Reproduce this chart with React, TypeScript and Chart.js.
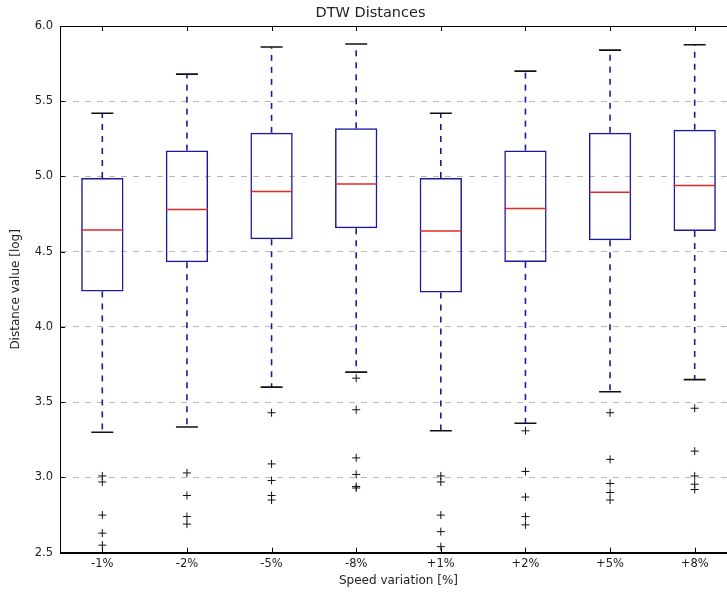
import React, { useEffect, useRef } from 'react';
import { Chart, registerables } from 'chart.js';
Chart.register(...registerables);

const labels = ['-1%', '-2%', '-5%', '-8%', '+1%', '+2%', '+5%', '+8%'];
const whiskerLow = [3.3, 3.335, 3.6, 3.7, 3.31, 3.36, 3.57, 3.65];
const q1 = [4.236, 4.43, 4.583, 4.656, 4.229, 4.432, 4.576, 4.638];
const median = [4.644, 4.78, 4.9, 4.95, 4.638, 4.788, 4.896, 4.94];
const q3 = [4.99, 5.172, 5.29, 5.32, 4.99, 5.172, 5.29, 5.31];
const whiskerHigh = [5.42, 5.68, 5.86, 5.88, 5.42, 5.7, 5.84, 5.875];
const outliers = [
  [3.01, 2.97, 2.75, 2.63, 2.55],
  [3.03, 2.88, 2.74, 2.69],
  [3.43, 3.09, 2.98, 2.88, 2.85],
  [3.66, 3.45, 3.13, 3.02, 2.94, 2.93],
  [3.01, 2.97, 2.75, 2.64, 2.54],
  [3.31, 3.04, 2.87, 2.74, 2.685],
  [3.43, 3.12, 2.96, 2.9, 2.85],
  [3.46, 3.175, 3.01, 2.955, 2.92],
];
const yTicksMin = 2.5;
const yTicksMax = 6.0;
const yStep = 0.5;

const BLUE = '#1a1a9e';
const RED = '#e42828';
const BLACK = '#111111';

const frameTicks = {
  id: 'frameTicks',
  afterDatasetsDraw(chart: any) {
    const { ctx, chartArea } = chart;
    const { left, right, top, bottom } = chartArea;
    const xs = chart.scales.x;
    const ys = chart.scales.y;
    ctx.save();
    ctx.strokeStyle = '#000';
    ctx.lineWidth = 1;
    ctx.setLineDash([]);
    ctx.beginPath();
    ctx.rect(Math.round(left) + 0.5, Math.round(top) + 0.5, Math.round(right - left), Math.round(bottom - top));
    ctx.stroke();
    const L = 5;
    ctx.beginPath();
    xs.ticks.forEach((_t: any, i: number) => {
      const px = Math.round(xs.getPixelForTick(i)) + 0.5;
      ctx.moveTo(px, bottom);
      ctx.lineTo(px, bottom - L);
      ctx.moveTo(px, top);
      ctx.lineTo(px, top + L);
    });
    ys.ticks.forEach((_t: any, i: number) => {
      const py = Math.round(ys.getPixelForTick(i)) + 0.5;
      ctx.moveTo(left, py);
      ctx.lineTo(left + L, py);
      ctx.moveTo(right, py);
      ctx.lineTo(right - L, py);
    });
    ctx.stroke();
    ctx.restore();
  },
};

export default function App() {
  const ref = useRef<HTMLCanvasElement>(null);
  useEffect(() => {
    const canvas = ref.current;
    if (!canvas) return;
    Chart.defaults.font.family = '"DejaVu Sans", sans-serif';
    const datasets: any[] = [];
    datasets.push({
      type: 'line',
      data: labels.map((l, i) => ({ x: l, y: median[i] })),
      showLine: false,
      pointStyle: 'line',
      pointRadius: 21,
      pointBorderColor: RED,
      pointBorderWidth: 1.5,
      order: 0,
    });
    datasets.push({
      type: 'bar',
      data: labels.map((_l, i) => [q1[i], q3[i]]),
      backgroundColor: 'rgba(255,255,255,0)',
      borderColor: BLUE,
      borderWidth: 1.5,
      borderSkipped: false,
      barPercentage: 0.5,
      categoryPercentage: 1,
      order: 1,
    });
    datasets.push({
      type: 'line',
      data: labels.flatMap((l, i) => [
        { x: l, y: whiskerHigh[i] },
        { x: l, y: whiskerLow[i] },
      ]),
      showLine: false,
      pointStyle: 'line',
      pointRadius: 11,
      pointBorderColor: BLACK,
      pointBorderWidth: 1.6,
      order: 2,
    });
    labels.forEach((l, i) => {
      [
        [q3[i], whiskerHigh[i]],
        [q1[i], whiskerLow[i]],
      ].forEach(([a, b]) => {
        datasets.push({
          type: 'line',
          data: [
            { x: l, y: a },
            { x: l, y: b },
          ],
          borderColor: BLUE,
          borderWidth: 1.6,
          borderDash: [6, 6],
          pointRadius: 0,
          tension: 0,
          order: 3,
        });
      });
    });
    datasets.push({
      type: 'line',
      data: labels.flatMap((l, i) => outliers[i].map((v) => ({ x: l, y: v }))),
      showLine: false,
      pointStyle: 'cross',
      pointRadius: 4,
      pointBorderColor: BLACK,
      pointBorderWidth: 1,
      order: 4,
    });

    const chart = new Chart(canvas, {
      type: 'bar',
      data: { labels, datasets },
      options: {
        animation: false,
        responsive: false,
        events: [],
        layout: { autoPadding: false, padding: { left: 4, top: 0, right: 3, bottom: 0 } },
        plugins: {
          legend: { display: false },
          tooltip: { enabled: false },
          title: {
            display: true,
            text: 'DTW Distances',
            color: '#222',
            font: { size: 14.5, weight: 'normal' },
            padding: { top: 5, bottom: 3.6 },
          },
        },
        scales: {
          x: {
            type: 'category',
            offset: true,
            afterFit: (s: any) => {
              s.paddingLeft = 0;
              s.paddingRight = 0;
              s.height = 39.3;
            },
            grid: { display: false, drawTicks: false },
            border: { display: true, color: '#000', width: 1 },
            ticks: { color: '#222', font: { size: 11.5 }, padding: 4 },
            title: {
              display: true,
              text: 'Speed variation [%]',
              color: '#222',
              font: { size: 12 },
              padding: { top: 3, bottom: 4 },
            },
          },
          y: {
            type: 'linear',
            min: yTicksMin,
            max: yTicksMax,
            afterFit: (s: any) => {
              s.width = 56;
            },
            grid: { color: '#b8b8b8', drawTicks: false, lineWidth: 1 },
            border: { display: true, color: '#000', width: 1, dash: [6, 6] },
            ticks: {
              stepSize: yStep,
              color: '#222',
              font: { size: 11.5 },
              padding: 7,
              callback: (v: any) => Number(v).toFixed(1),
            },
            title: {
              display: true,
              text: 'Distance value [log]',
              color: '#222',
              font: { size: 12 },
              padding: { top: 5, bottom: 11 },
            },
          },
        },
      } as any,
      plugins: [frameTicks],
    });
    return () => chart.destroy();
  }, []);
  return (
    <div
      style={{
        position: 'fixed',
        left: 0,
        top: 0,
        width: 727,
        height: 592,
        overflow: 'hidden',
        background: '#fff',
      }}
    >
      <canvas ref={ref} width={740} height={592} style={{ display: 'block', width: 740, height: 592 }} />
    </div>
  );
}
